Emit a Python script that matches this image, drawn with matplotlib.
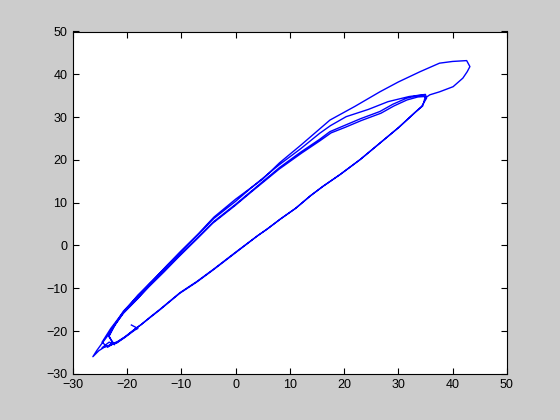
import numpy as np
import matplotlib
matplotlib.use("Agg")
import matplotlib.pyplot as plt

# Trajectory segments (data units)
x_start = [-19.2, -18.0]
y_start = [-18.6, -19.4]

x_low1 = [-18.6, -20.4, -21.9, -24.1, -25.2, -26.3]
y_low1 = [-19.8, -21.5, -22.8, -23.7, -24.6, -26.0]

x_up1 = [-25.6, -24.8, -23.8, -22.4, -20.7, -18.0, -15.8, -13.0, -10.3, -7.0, -4.0, 0.0, 3.2, 8.1, 12.0, 15.5, 17.4, 20.0, 23.0, 26.6, 29.0, 31.5, 33.5, 34.6, 35.2]
y_up1 = [-24.6, -23.2, -21.5, -18.8, -15.9, -12.4, -9.3, -5.8, -2.2, 1.8, 5.6, 9.6, 13.0, 18.2, 21.8, 24.8, 26.6, 28.0, 29.6, 31.3, 33.0, 34.4, 35.0, 35.1, 34.5]

x_down_thin = [35.0, 32.0, 28.1, 24.5, 20.4, 17.5, 15.5, 12.0, 8.0, 3.0, 0.0, -4.0, -7.0, -10.3, -13.0, -15.8, -18.0, -20.7, -22.3, -23.3, -22.6, -23.6, -24.6]
y_down_thin = [35.3, 34.8, 33.6, 31.8, 30.1, 28.0, 26.2, 22.6, 18.8, 13.6, 10.3, 6.3, 2.4, -1.7, -5.3, -8.8, -11.8, -15.4, -18.6, -21.2, -23.0, -23.8, -22.6]

x_up2 = [-24.2, -23.0, -21.2, -18.4, -16.0, -13.2, -10.5, -7.2, -4.2, -0.2, 3.0, 8.0, 12.2, 15.6, 17.6, 20.2, 23.2, 26.8, 29.2, 31.6, 33.6, 34.8, 35.2]
y_up2 = [-21.8, -19.4, -16.4, -12.8, -9.7, -6.2, -2.7, 1.4, 5.2, 9.2, 12.6, 17.8, 21.6, 24.5, 26.3, 27.6, 29.2, 30.9, 32.6, 34.0, 34.7, 34.8, 34.4]

x_low2 = [34.3, 33.0, 30.0, 26.6, 22.9, 19.2, 16.0, 13.7, 11.0, 8.2, 5.7, 4.0, 0.0, -4.1, -7.2, -10.3, -12.2, -14.0, -15.8, -17.5, -18.6, -20.4, -21.9, -23.4, -24.6, -23.3, -22.3]
y_low2 = [32.5, 31.0, 27.5, 23.9, 20.0, 16.5, 13.7, 11.5, 8.6, 6.1, 3.7, 2.2, -1.7, -5.7, -8.6, -11.2, -13.2, -15.1, -16.9, -18.6, -19.6, -21.4, -22.7, -23.4, -23.9, -22.6, -23.2]

x_up3 = [-23.4, -22.2, -20.4, -18.0, -15.4, -12.6, -9.8, -6.8, -4.0, 0.0, 5.0, 8.1, 12.0, 17.4, 22.0, 26.6, 30.0, 34.0, 37.6, 40.0, 42.6, 43.2, 42.7, 41.9, 40.1, 37.6, 35.8, 34.9]
y_up3 = [-21.2, -18.6, -15.2, -11.6, -8.4, -4.6, -1.0, 2.8, 6.6, 10.8, 15.5, 19.3, 23.4, 29.3, 32.5, 35.9, 38.2, 40.6, 42.6, 43.0, 43.2, 41.8, 40.6, 39.1, 37.1, 35.9, 35.2, 34.4]

x_low3 = [34.5, 33.2, 30.2, 26.8, 23.1, 19.4, 16.2, 13.9, 11.2, 8.4, 5.9, 4.2, 0.1, -4.0, -7.1, -10.2, -12.1, -13.9, -15.7, -17.4, -18.5, -20.3, -21.8, -23.2, -22.0]
y_low3 = [32.6, 31.2, 27.7, 24.1, 20.2, 16.7, 13.9, 11.7, 8.8, 6.3, 3.9, 2.4, -1.5, -5.5, -8.4, -11.0, -13.0, -14.9, -16.7, -18.5, -19.5, -21.3, -22.5, -23.2, -22.8]

xs = np.concatenate([x_start, x_low1, x_up1, x_down_thin, x_up2, x_low2, x_up3, x_low3])
ys = np.concatenate([y_start, y_low1, y_up1, y_down_thin, y_up2, y_low2, y_up3, y_low3])

x_ticks = [-30, -20, -10, 0, 10, 20, 30, 40, 50]
y_ticks = [-30, -20, -10, 0, 10, 20, 30, 40, 50]

plt.rcParams['font.family'] = ['Liberation Sans', 'DejaVu Sans']
fig = plt.figure(figsize=(5.6, 4.2), dpi=100, facecolor='#cccccc')
ax = fig.add_axes([0.13, 0.11, 0.775, 0.815])
ax.set_facecolor('white')
ax.plot(xs, ys, color='#0000ff', lw=1.0)
ax.set_xlim(-30, 50)
ax.set_ylim(-30, 50)
ax.set_xticks(x_ticks)
ax.set_yticks(y_ticks)
ax.tick_params(direction='in', top=True, right=True, length=4, width=0.8,
               labelsize=9, colors='black', pad=4)
for s in ax.spines.values():
    s.set_linewidth(0.8)
fig.savefig('out.png', dpi=100, facecolor=fig.get_facecolor())
